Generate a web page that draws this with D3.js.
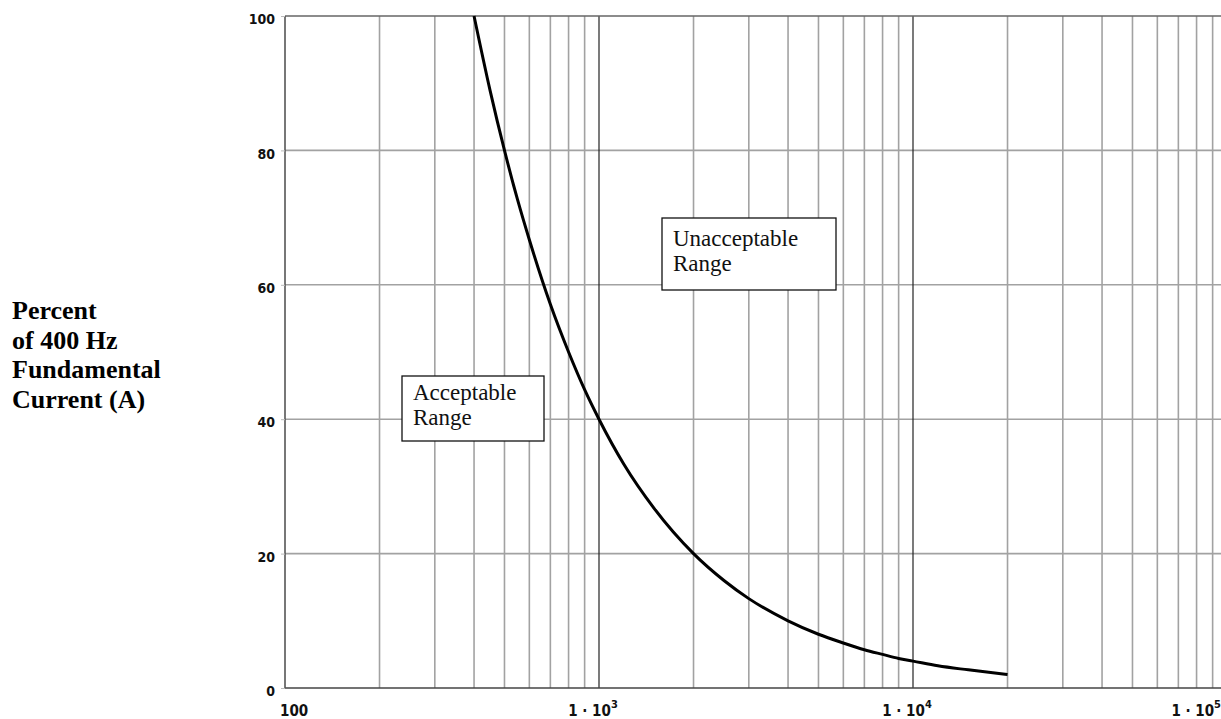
<!DOCTYPE html>
<html>
<head>
<meta charset="utf-8">
<script src="https://cdn.jsdelivr.net/npm/d3@7/dist/d3.min.js"></script>
<style>
  html, body { margin: 0; padding: 0; background: #fff; }
  svg { display: block; }
</style>
</head>
<body>
<script>
// ---- data ----
const freqHz = [400, 450, 500, 550, 600, 700, 800, 900, 1000, 1200, 1500, 2000, 2500, 3000, 4000, 5000, 6000, 7000, 8000, 9000, 10000, 12000, 15000, 20000];
const percentFund = [100, 88.9, 80, 72.7, 66.7, 57.1, 50, 44.4, 40, 33.3, 26.7, 20, 16, 13.3, 10, 8, 6.7, 5.7, 5, 4.4, 4, 3.3, 2.7, 2];
const yTicks = [0, 20, 40, 60, 80, 100];
const xTickValues = [100, 1000, 10000, 100000];
const xTickBase = ["100", "1 \u00B7 10", "1 \u00B7 10", "1 \u00B7 10"];
const xTickExp = ["", "3", "4", "5"];
const decades = [100, 1000, 10000];
const minorMult = [2, 3, 4, 5, 6, 7, 8, 9];
const titleLines = ["Percent", "of 400 Hz", "Fundamental", "Current (A)"];
const accLines = ["Acceptable", "Range"];
const unaccLines = ["Unacceptable", "Range"];

const W = 1221, H = 719;
const svg = d3.select("body").append("svg").attr("width", W).attr("height", H);
svg.append("rect").attr("width", W).attr("height", H).attr("fill", "#fff");

const x = d3.scaleLog().domain([100, 100000]).range([285, 1227]);
const y = d3.scaleLinear().domain([0, 100]).range([688, 16]);

// minor vertical grid
const minors = [];
decades.forEach(d => minorMult.forEach(m => minors.push(d * m)));
svg.append("g").selectAll("line").data(minors).join("line")
  .attr("x1", d => x(d)).attr("x2", d => x(d))
  .attr("y1", y(100)).attr("y2", y(0))
  .attr("stroke", "#a2a2a2").attr("stroke-width", 1.6);

// horizontal grid
svg.append("g").selectAll("line").data(yTicks.filter(v => v > 0 && v < 100)).join("line")
  .attr("x1", x(100)).attr("x2", W)
  .attr("y1", d => y(d)).attr("y2", d => y(d))
  .attr("stroke", "#a2a2a2").attr("stroke-width", 1.6);

// major vertical lines
svg.append("g").selectAll("line").data([1000, 10000]).join("line")
  .attr("x1", d => x(d)).attr("x2", d => x(d))
  .attr("y1", y(100)).attr("y2", y(0))
  .attr("stroke", "#222").attr("stroke-width", 1.2);

// frame
svg.append("line").attr("x1", x(100)).attr("x2", W).attr("y1", y(100)).attr("y2", y(100))
  .attr("stroke", "#666").attr("stroke-width", 1.6);
svg.append("line").attr("x1", x(100)).attr("x2", W).attr("y1", y(0)).attr("y2", y(0))
  .attr("stroke", "#444").attr("stroke-width", 1.6);
svg.append("line").attr("x1", x(100)).attr("x2", x(100)).attr("y1", y(100)).attr("y2", y(0))
  .attr("stroke", "#555").attr("stroke-width", 1.6);

// y axis labels
const yAxis = d3.axisLeft(y).tickValues(yTicks).tickSize(4).tickPadding(6).tickFormat(d3.format("d"));
const gy = svg.append("g").attr("transform", `translate(${x(100)},0)`).call(yAxis);
gy.select(".domain").remove();
gy.selectAll(".tick line").attr("stroke", "#bbb");
gy.selectAll(".tick text")
  .attr("font-family", "'Liberation Sans Narrow', 'DejaVu Sans Condensed', sans-serif")
  .attr("font-weight", "bold").attr("font-size", 14).attr("fill", "#111")
  .attr("dy", "0.55em");

// x axis labels
const xl = svg.append("g")
  .attr("font-family", "'Liberation Sans Narrow', 'DejaVu Sans Condensed', sans-serif")
  .attr("font-weight", "bold").attr("font-size", 15).attr("fill", "#111");
xTickValues.forEach((v, i) => {
  let anchor = "middle", px = x(v) - 6;
  if (i === 0) { anchor = "start"; px = x(v) - 5; }
  if (i === xTickValues.length - 1) { anchor = "end"; px = W; }
  const t = xl.append("text").attr("x", px).attr("y", 716).attr("text-anchor", anchor);
  t.append("tspan").text(xTickBase[i]);
  if (xTickExp[i]) t.append("tspan").attr("font-size", 11).attr("dy", -8).text(xTickExp[i]);
});

// curve
const line = d3.line().x((d, i) => x(freqHz[i])).y(d => y(d)).curve(d3.curveMonotoneX);
svg.append("path").datum(percentFund).attr("d", line)
  .attr("fill", "none").attr("stroke", "#000").attr("stroke-width", 3);

// annotation boxes
function box(bx, by, bw, bh, lines, tx, ty) {
  const g = svg.append("g");
  g.append("rect").attr("x", bx).attr("y", by).attr("width", bw).attr("height", bh)
    .attr("fill", "#fff").attr("stroke", "#111").attr("stroke-width", 1.3);
  g.selectAll("text").data(lines).join("text")
    .attr("x", tx).attr("y", (d, i) => ty + i * 25)
    .attr("font-family", "'Liberation Serif', 'Times New Roman', serif")
    .attr("font-size", 23).attr("fill", "#111").text(d => d);
}
box(402, 376, 142, 65, accLines, 413, 400);
box(662, 218, 174, 72, unaccLines, 673, 246);

// left title
svg.append("g").selectAll("text").data(titleLines).join("text")
  .attr("x", 12).attr("y", (d, i) => 319 + i * 29.7)
  .attr("font-family", "'Liberation Serif', 'Times New Roman', serif")
  .attr("font-weight", "bold").attr("font-size", 26).attr("fill", "#000").text(d => d);
</script>
</body>
</html>
